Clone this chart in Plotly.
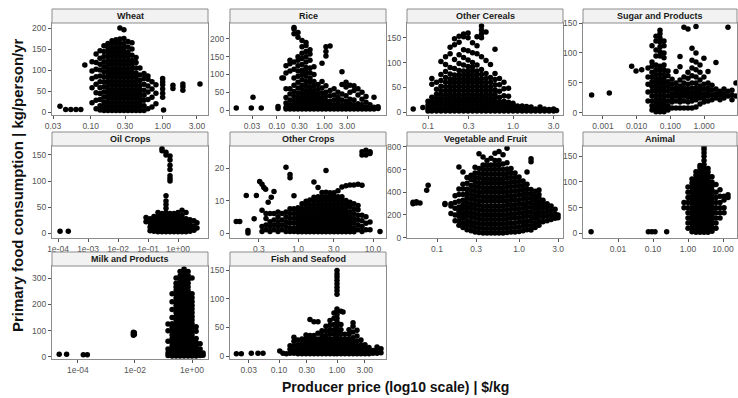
import plotly.graph_objects as go

# ---------------- data ----------------
panel_names = ["Wheat", "Rice", "Other Cereals", "Sugar and Products",
               "Oil Crops", "Other Crops", "Vegetable and Fruit", "Animal",
               "Milk and Products", "Fish and Seafood"]

# each panel: x = producer price ($/kg), y = list of consumption values observed at that price
wheat_x = [0.0375, 0.045, 0.053, 0.0625, 0.073, 0.083, 0.1045, 0.119, 0.135, 0.153, 0.174,
           0.198, 0.225, 0.255, 0.290, 0.330, 0.375, 0.427, 0.484, 0.551, 0.625, 0.711,
           0.807, 1.0, 1.03, 1.39, 1.91, 3.3]
wheat_y = [[14], [6], [6], [6], [6], [112],
           [22, 58, 80, 98, 120],
           [8, 28, 46, 66, 84, 102, 118, 138],
           [5, 15, 30, 44, 58, 72, 86, 100, 114, 128, 146],
           [4, 14, 24, 36, 48, 60, 72, 84, 96, 108, 120, 132, 144, 158],
           [4, 13, 23, 33, 43, 53, 63, 73, 83, 93, 103, 113, 123, 133, 143, 153, 163],
           [4, 13, 23, 33, 43, 53, 63, 73, 83, 93, 103, 113, 123, 133, 143, 153, 163, 170],
           [4, 13, 23, 33, 43, 53, 63, 73, 83, 93, 103, 113, 123, 133, 143, 153, 163, 172],
           [4, 13, 23, 33, 43, 53, 63, 73, 83, 93, 103, 113, 123, 133, 143, 153, 163, 174, 200],
           [4, 13, 23, 33, 43, 53, 63, 73, 83, 93, 103, 113, 123, 133, 143, 153, 163, 175, 196],
           [4, 13, 23, 33, 43, 53, 63, 73, 83, 93, 103, 113, 123, 133, 143, 155, 168],
           [4, 13, 23, 33, 43, 53, 63, 73, 83, 93, 103, 113, 123, 135, 150, 165],
           [4, 13, 23, 33, 43, 53, 63, 73, 83, 93, 105, 118, 130],
           [4, 13, 23, 33, 43, 53, 63, 75, 88, 105],
           [4, 15, 28, 40, 52, 66, 80, 92],
           [8, 30, 48, 62, 78, 86],
           [12, 35, 55, 72],
           [20, 45, 65],
           [35, 45, 55, 65, 72, 80], [5], [56, 64], [52, 60, 67], [67]]

rice_x = [0.014, 0.029, 0.0315, 0.047, 0.106, 0.128, 0.138, 0.156, 0.189, 0.230, 0.279,
          0.339, 0.411, 0.499, 0.605, 0.736, 0.893, 1.08, 1.32, 1.60, 1.94, 2.35, 2.86,
          3.47, 4.21, 5.11, 6.21, 7.54, 9.14, 11.1, 13.5]
rice_y = [[6], [6], [36], [6], [4, 10], [90], [90],
          [3, 8, 20, 35, 60, 104, 125],
          [3, 8, 15, 28, 45, 60, 110, 130, 140],
          [3, 8, 15, 25, 38, 52, 70, 90, 115, 135, 215, 228, 232],
          [3, 8, 15, 25, 35, 48, 62, 78, 95, 110, 125, 140, 150, 205, 218],
          [3, 8, 15, 25, 35, 45, 58, 70, 85, 100, 112, 128, 145, 160, 178, 196],
          [3, 8, 15, 25, 35, 45, 55, 68, 80, 95, 108, 120, 135, 150, 165, 182, 190],
          [3, 8, 15, 25, 35, 45, 55, 65, 78, 90, 105, 118, 140, 158, 170],
          [3, 8, 15, 25, 35, 45, 55, 68, 80, 100, 122],
          [3, 8, 15, 25, 35, 45, 58, 72],
          [3, 8, 15, 25, 35, 48, 62, 80, 132],
          [3, 8, 15, 25, 38, 50, 68, 152, 165, 178],
          [3, 8, 15, 25, 40, 55, 180],
          [3, 8, 15, 28, 42, 60],
          [3, 8, 15, 25, 35, 50],
          [3, 8, 15, 28, 45, 72, 108],
          [3, 8, 15, 25, 40, 65, 78],
          [3, 8, 18, 30, 50, 70],
          [3, 8, 15, 28, 55, 68],
          [3, 8, 18, 42, 60],
          [3, 8, 15, 30, 50],
          [3, 8, 22, 38],
          [3, 8, 15],
          [3, 8, 36],
          [4, 9]]

cereal_x = [0.067, 0.087, 0.100, 0.111, 0.126, 0.142, 0.161, 0.182, 0.205, 0.232, 0.262,
            0.296, 0.334, 0.377, 0.426, 0.481, 0.543, 0.614, 0.693, 0.783, 0.885, 1.0,
            1.13, 1.28, 1.44, 1.63, 1.84, 2.08, 2.35, 2.66, 3.0, 3.25]
cereal_y = [[6], [9],
            [2, 7, 14, 22],
            [2, 7, 14, 22, 30, 56, 68],
            [2, 7, 14, 21, 28, 36, 46, 60],
            [2, 7, 14, 21, 28, 35, 43, 52, 64, 76, 102],
            [2, 7, 14, 21, 28, 35, 43, 51, 60, 70, 82, 96, 112],
            [2, 7, 14, 21, 28, 35, 43, 51, 59, 67, 77, 90, 118, 131],
            [2, 7, 14, 21, 28, 35, 43, 51, 59, 67, 75, 88, 106, 136, 148],
            [2, 7, 14, 21, 28, 35, 43, 51, 59, 67, 75, 84, 98, 116, 141, 153],
            [2, 7, 14, 21, 28, 35, 43, 51, 59, 67, 75, 83, 95, 110, 126, 152, 158],
            [2, 7, 14, 21, 28, 35, 43, 51, 59, 67, 75, 83, 92, 105, 124, 150, 160],
            [2, 7, 14, 21, 28, 35, 43, 51, 59, 67, 75, 83, 91, 100, 120, 140],
            [2, 7, 14, 21, 28, 35, 43, 51, 59, 67, 75, 83, 95, 118, 134, 152],
            [2, 7, 14, 21, 28, 35, 43, 51, 59, 67, 76, 86, 112, 150, 158, 166, 174],
            [2, 7, 14, 21, 28, 35, 43, 51, 59, 68, 78, 104, 162],
            [2, 7, 14, 21, 28, 35, 43, 51, 60, 70, 96],
            [2, 7, 14, 21, 28, 36, 45, 55, 66, 78, 127],
            [2, 7, 14, 21, 30, 42, 55, 68],
            [2, 7, 14, 22, 33, 47, 60],
            [2, 7, 13, 20, 32, 48],
            [2, 6, 12, 18],
            [2, 6, 12],
            [2, 6, 12],
            [2, 6, 11],
            [2, 6, 10],
            [2, 6],
            [2, 6, 10],
            [2, 6],
            [2, 5],
            [2, 6],
            [3]]

sugar_x = [0.00046, 0.00154, 0.0071, 0.0096, 0.0141, 0.0217, 0.0285, 0.0374, 0.0492,
           0.0646, 0.0849, 0.112, 0.147, 0.193, 0.253, 0.333, 0.438, 0.575, 0.756, 0.99,
           1.31, 1.72, 2.25, 2.96, 3.89, 5.12, 6.73, 8.84]
sugar_y = [[30], [33], [78], [70], [72],
           [20, 35, 48, 60, 75],
           [5, 12, 20, 28, 36, 44, 52, 60, 68, 78, 85, 112],
           [2, 8, 15, 22, 29, 36, 43, 50, 57, 64, 72, 80, 95, 105, 120, 128],
           [2, 8, 15, 22, 29, 36, 43, 50, 57, 64, 71, 78, 95, 102, 110, 118, 125, 132, 138],
           [2, 8, 15, 22, 29, 36, 43, 50, 57, 64, 72, 80, 92, 100, 112, 120],
           [5, 12, 20, 28, 36, 44, 52, 62, 70],
           [8, 18, 25, 32, 40, 48, 56],
           [8, 20, 28, 35, 42, 50, 69],
           [8, 18, 25, 32, 38, 45, 55, 77, 94],
           [8, 20, 28, 35, 42, 50, 60, 143],
           [8, 18, 26, 33, 40, 48, 58, 68, 140],
           [8, 20, 27, 34, 41, 50, 62, 75, 88, 108],
           [10, 22, 28, 35, 42, 50, 60, 72, 85, 100, 144],
           [15, 25, 32, 38, 45, 55, 68, 80],
           [18, 25, 32, 40, 48, 60, 91],
           [20, 28, 35, 42, 50, 69],
           [22, 30, 38, 46],
           [25, 32, 40, 84],
           [22, 30, 36],
           [25, 32, 40],
           [28, 36, 143],
           [22, 30, 38],
           [28, 50]]

oil_x = [0.000117, 0.00022, 0.0858, 0.117, 0.158, 0.215, 0.293, 0.398, 0.541, 0.736, 1.0,
         1.36, 1.85, 2.51, 3.41, 4.3]
oil_y = [[4], [4],
         [22, 30],
         [5, 12, 20, 28],
         [4, 10, 16, 22, 28, 32],
         [3, 8, 14, 20, 26, 32, 40],
         [3, 8, 14, 20, 26, 32, 38, 158, 162],
         [3, 8, 14, 20, 26, 32, 40, 48, 55, 62, 72, 150, 155],
         [3, 8, 14, 20, 26, 32, 38, 100, 105, 110, 122, 130, 140, 148],
         [3, 8, 14, 20, 26, 32, 38],
         [3, 8, 14, 20, 26, 32, 40],
         [3, 8, 14, 20, 26, 34, 44],
         [3, 8, 14, 20, 28, 40],
         [4, 10, 18, 26],
         [6, 14, 24],
         [10, 20]]

othcrop_x = [0.150, 0.167, 0.204, 0.215, 0.26, 0.278, 0.308, 0.35, 0.37, 0.40, 0.44,
             0.331, 0.374, 0.423, 0.478, 0.541, 0.611, 0.691, 0.782, 0.883, 1.0, 1.13,
             1.28, 1.44, 1.63, 1.85, 2.09, 2.36, 2.67, 3.02, 3.41, 3.85, 4.36, 4.93, 5.57,
             6.31, 7.13, 8.05, 9.12, 12.4]
othcrop_y = [[3.6], [3.6], [11.6], [0.8, 0], [4.4], [11.6], [15.9], [14], [13.5], [9.5], [11],
             [0.5, 2, 7, 15],
             [1, 2.5, 4.5, 6],
             [0.5, 2, 3.5, 6],
             [1, 2.5, 4, 6, 12.8],
             [0.5, 2, 3.5, 5, 6.5],
             [1, 2.5, 4, 6],
             [0.5, 2, 3.5, 5, 6.5, 20.3],
             [0.5, 1.5, 3, 4.5, 6, 7.5, 17, 18],
             [0.5, 1.5, 3, 4.5, 6, 7.5, 11.5],
             [0.4, 1.6, 2.8, 4, 5.2, 6.4, 7.8],
             [0.4, 1.6, 2.8, 4, 5.2, 6.4, 7.6, 9],
             [0.4, 1.6, 2.8, 4, 5.2, 6.4, 7.6, 8.8, 9.8],
             [0.4, 1.6, 2.8, 4, 5.2, 6.4, 7.6, 8.8, 10.2],
             [0.4, 1.6, 2.8, 4, 5.2, 6.4, 7.6, 8.8, 10, 11, 15.7],
             [0.4, 1.6, 2.8, 4, 5.2, 6.4, 7.6, 8.8, 10, 11.2, 14],
             [0.4, 1.6, 2.8, 4, 5.2, 6.4, 7.6, 8.8, 10, 11.2, 12.5],
             [0.4, 1.6, 2.8, 4, 5.2, 6.4, 7.6, 8.8, 10, 11.2, 12.6, 19.3],
             [0.4, 1.6, 2.8, 4, 5.2, 6.4, 7.6, 8.8, 10, 11.2, 12.4],
             [0.4, 1.6, 2.8, 4, 5.2, 6.4, 7.6, 8.8, 10, 11.2, 12.4],
             [0.4, 1.6, 2.8, 4, 5.2, 6.4, 7.6, 8.8, 10, 11.2, 13],
             [0.4, 1.6, 2.8, 4, 5.2, 6.4, 7.6, 8.8, 10, 11.2, 14.2],
             [0.4, 1.6, 2.8, 4, 5.2, 6.4, 7.6, 8.8, 10, 14.6],
             [0.4, 1.6, 2.8, 4, 5.2, 6.6, 8.2, 9.5, 14.8],
             [0.4, 1.6, 3, 4.5, 6, 7.5, 9, 14.8],
             [1, 2.5, 4, 5.5, 7.2, 8.5, 15],
             [0.5, 2, 3.8, 5.5, 14.7, 24, 25],
             [1, 3, 5, 24, 25.5],
             [1, 3.4, 24.5, 25],
             [0.5]]

veg_x = [0.051, 0.056, 0.062, 0.0748, 0.078, 0.125, 0.148, 0.166, 0.185, 0.207, 0.232,
         0.260, 0.291, 0.325, 0.364, 0.407, 0.455, 0.509, 0.570, 0.638, 0.714, 0.798,
         0.893, 1.0, 1.12, 1.25, 1.40, 1.57, 1.75, 1.96, 2.20, 2.46, 2.75, 2.99]
veg_y = [[300, 312], [316, 305], [305], [418], [462], [301, 292],
         [213, 280, 300],
         [150, 200, 260, 310, 370],
         [110, 150, 190, 230, 270, 320, 380, 430, 623],
         [90, 130, 170, 210, 250, 290, 330, 380, 430, 470, 579],
         [70, 110, 150, 190, 230, 270, 310, 350, 390, 430, 480, 530],
         [60, 100, 140, 180, 220, 260, 300, 340, 380, 420, 460, 510, 550],
         [50, 90, 130, 170, 210, 250, 290, 330, 370, 410, 450, 490, 530, 570, 620],
         [45, 85, 125, 165, 205, 245, 285, 325, 365, 405, 445, 485, 525, 565, 610, 740],
         [40, 80, 120, 160, 200, 240, 280, 320, 360, 400, 440, 480, 520, 560, 600, 640, 710],
         [40, 80, 120, 160, 200, 240, 280, 320, 360, 400, 440, 480, 520, 560, 600, 640, 680],
         [40, 80, 120, 160, 200, 240, 280, 320, 360, 400, 440, 480, 520, 560, 600, 640, 700],
         [40, 80, 120, 160, 200, 240, 280, 320, 360, 400, 440, 480, 520, 560, 600, 640, 680, 745],
         [40, 80, 120, 160, 200, 240, 280, 320, 360, 400, 440, 480, 520, 560, 600, 640, 680, 760],
         [40, 80, 120, 160, 200, 240, 280, 320, 360, 400, 440, 480, 520, 560, 600, 650, 730],
         [45, 85, 125, 165, 205, 245, 285, 325, 365, 405, 445, 485, 525, 565, 605, 660, 789],
         [50, 90, 130, 170, 210, 250, 290, 330, 370, 410, 450, 490, 530, 570, 610],
         [50, 90, 130, 170, 210, 250, 290, 330, 370, 410, 450, 490, 530, 570],
         [55, 95, 135, 175, 215, 255, 295, 335, 375, 415, 455, 495, 535],
         [60, 100, 140, 180, 220, 260, 300, 340, 380, 420, 460, 500],
         [70, 110, 150, 190, 230, 270, 310, 350, 390, 430, 470, 579],
         [67, 105, 145, 185, 225, 265, 305, 345, 385, 425, 670, 696],
         [90, 130, 170, 210, 250, 290, 330, 370, 410],
         [110, 150, 190, 230, 270, 310, 350, 380, 420],
         [140, 180, 220, 260, 300, 330],
         [150, 190, 230, 270, 300],
         [160, 200, 240, 280],
         [170, 210, 250],
         [175, 200]]

animal_x = [0.0017, 0.0735, 0.092, 0.114, 0.246, 0.769, 1.0, 1.30, 1.69, 2.20, 2.87, 3.73,
            4.85, 6.31, 8.21, 10.7, 13.9]
animal_y = [[3], [3], [3], [3], [3],
            [50, 60],
            [10, 20, 30, 40, 50, 60, 70, 80, 90],
            [3, 10, 18, 26, 34, 42, 50, 58, 66, 74, 82, 90, 98, 106],
            [2, 8, 15, 22, 29, 36, 43, 50, 57, 64, 71, 78, 85, 92, 99, 106, 113, 120],
            [2, 8, 15, 22, 29, 36, 43, 50, 57, 64, 71, 78, 85, 92, 99, 106, 113, 120, 127, 132],
            [2, 8, 15, 22, 29, 36, 43, 50, 57, 64, 71, 78, 85, 92, 99, 106, 113, 120, 127, 134,
             142, 150, 157, 163, 168],
            [2, 8, 15, 22, 29, 36, 43, 50, 57, 64, 71, 78, 85, 92, 99, 106, 113, 120, 126],
            [4, 12, 20, 28, 36, 44, 52, 60, 68, 76, 84, 92, 100, 110],
            [10, 20, 30, 40, 50, 60, 70, 80, 95],
            [30, 40, 50, 60, 72, 85],
            [40, 50, 65, 72],
            [70, 75]]

milk_x = [2.2e-5, 4.0e-5, 1.54e-4, 2.13e-4, 0.0088, 0.0095, 0.144, 0.200, 0.276, 0.381,
          0.526, 0.727, 1.0, 1.39, 1.92, 2.44]
milk_y = [[10], [10], [8], [8], [82, 88, 94], [85, 92],
          [5, 15, 30, 60, 100, 125],
          [3, 14, 28, 42, 56, 70, 84, 98, 112, 126, 150, 180, 210, 240],
          [3, 14, 28, 42, 56, 70, 84, 98, 112, 126, 140, 154, 168, 182, 196, 210, 224, 238,
           252, 266, 280, 300],
          [3, 14, 28, 42, 56, 70, 84, 98, 112, 126, 140, 154, 168, 182, 196, 210, 224, 238,
           252, 266, 280, 294, 308, 325],
          [3, 14, 28, 42, 56, 70, 84, 98, 112, 126, 140, 154, 168, 182, 196, 210, 224, 238,
           252, 266, 280, 294, 308, 322, 335],
          [3, 14, 28, 42, 56, 70, 84, 98, 112, 126, 140, 154, 168, 182, 196, 210, 224, 238,
           252, 266, 280, 294, 310, 325],
          [3, 14, 28, 42, 56, 70, 84, 98, 112, 126, 140, 154, 168, 182, 196, 210, 225, 240, 300],
          [3, 12, 25, 40, 55, 70, 98, 115],
          [5, 15, 30, 50],
          [6, 15]]

fish_x = [0.0184, 0.0224, 0.0333, 0.0434, 0.053, 0.103, 0.117, 0.134, 0.155, 0.181, 0.212,
          0.249, 0.292, 0.342, 0.401, 0.470, 0.551, 0.646, 0.757, 0.887, 1.0, 1.17, 1.27,
          1.37, 1.61, 1.89, 2.21, 2.59, 3.04, 3.56, 4.18, 4.90, 5.74]
fish_y = [[4], [4], [5], [5], [5], [9], [5], [4],
          [5, 12, 18],
          [5, 10, 18, 26, 33],
          [4, 8, 14, 20, 28],
          [4, 9, 14, 22, 30],
          [4, 8, 13, 18, 24, 30, 37],
          [4, 8, 13, 18, 24, 30, 36, 64],
          [4, 8, 13, 18, 24, 30, 36, 60],
          [4, 8, 13, 18, 24, 30, 40, 60],
          [4, 8, 13, 18, 24, 30, 36, 44],
          [4, 8, 13, 18, 24, 30, 36, 44, 52],
          [4, 8, 13, 18, 24, 30, 38, 46, 54, 62],
          [4, 8, 13, 18, 24, 30, 38, 46, 55, 66, 75],
          [4, 8, 13, 18, 24, 30, 36, 42, 48, 54, 60, 66, 72, 78, 82, 108, 114, 120, 126,
           132, 138, 143, 149],
          [4, 8, 13, 18, 24, 30, 38, 46, 55, 78],
          [77],
          [4, 8, 13, 18, 24, 30, 38],
          [4, 8, 13, 18, 24, 30, 38, 46],
          [4, 8, 13, 18, 24, 32, 42, 52, 58],
          [4, 8, 13, 18, 26, 35, 45],
          [4, 8, 13, 20, 28],
          [4, 8, 14, 20],
          [4, 9, 15],
          [5, 10],
          [5, 12, 16],
          [6, 13]]

x_tick_values = [[0.03, 0.1, 0.3, 1, 3], [0.03, 0.1, 0.3, 1, 3], [0.1, 0.3, 1, 3],
                 [0.001, 0.01, 0.1, 1], [1e-4, 1e-3, 1e-2, 1e-1, 1], [0.3, 1, 3, 10],
                 [0.1, 0.3, 1, 3], [0.01, 0.1, 1, 10], [1e-4, 1e-2, 1],
                 [0.03, 0.1, 0.3, 1, 3]]
x_tick_labels = [["0.03", "0.10", "0.30", "1.00", "3.00"],
                 ["0.03", "0.10", "0.30", "1.00", "3.00"],
                 ["0.1", "0.3", "1.0", "3.0"],
                 ["0.001", "0.010", "0.100", "1.000"],
                 ["1e-04", "1e-03", "1e-02", "1e-01", "1e+00"],
                 ["0.3", "1.0", "3.0", "10.0"],
                 ["0.1", "0.3", "1.0", "3.0"],
                 ["0.01", "0.10", "1.00", "10.00"],
                 ["1e-04", "1e-02", "1e+00"],
                 ["0.03", "0.10", "0.30", "1.00", "3.00"]]
y_tick_values = [[0, 50, 100, 150, 200], [0, 50, 100, 150, 200], [0, 50, 100, 150],
                 [0, 50, 100, 150], [0, 50, 100, 150], [0, 10, 20],
                 [0, 200, 400, 600, 800], [0, 50, 100, 150], [0, 100, 200, 300],
                 [0, 50, 100, 150]]

x_title = "Producer price (log10 scale) | $/kg"
y_title = "Primary food consumption | kg/person/yr"

panel_x = [wheat_x, rice_x, cereal_x, sugar_x, oil_x, othcrop_x, veg_x, animal_x, milk_x, fish_x]
panel_y = [wheat_y, rice_y, cereal_y, sugar_y, oil_y, othcrop_y, veg_y, animal_y, milk_y, fish_y]

# ---------------- layout geometry (pixels) ----------------
W, H = 738, 398
col_px = [(52, 208), (230, 386), (407, 563), (583, 737)]
row_px = [(23, 115), (146, 238), (266, 359)]
strip_px = 14
grid_pos = [(0, 0), (0, 1), (0, 2), (0, 3), (1, 0), (1, 1), (1, 2), (1, 3), (2, 0), (2, 1)]
x_log_range = [(-1.537, 0.630), (-1.986, 1.298), (-1.247, 0.588), (-3.593, 0.977),
               (-4.2, 1.0), (-0.907, 1.173), (-1.366, 0.536), (-3.0, 1.4),
               (-4.91, 0.56), (-1.845, 0.845)]
y_lin_range = [(-7, 212), (-14, 245), (-6, 180), (-3.5, 150), (-9, 167), (-1.5, 26.8),
               (-3, 808), (-9, 170), (-8, 346), (-5, 157)]

FONT = "Liberation Sans, Arial, sans-serif"
BORDER = "#8c8c8c"
TICKCOL = "#555555"

fig = go.Figure()
axes = {}
shapes = []
annotations = []

for i, name in enumerate(panel_names):
    xs, ys = [], []
    for xv, col in zip(panel_x[i], panel_y[i]):
        xs.extend([xv] * len(col))
        ys.extend(col)
    sfx = "" if i == 0 else str(i + 1)
    fig.add_trace(go.Scatter(x=xs, y=ys, mode="markers",
                             marker=dict(color="black", size=5.5, line=dict(width=0)),
                             xaxis="x" + sfx, yaxis="y" + sfx,
                             hoverinfo="skip", showlegend=False))
    r, c = grid_pos[i]
    x0, x1 = col_px[c]
    y0, y1 = row_px[r]
    common = dict(showgrid=False, zeroline=False, showline=True, mirror=True,
                  linecolor=BORDER, linewidth=1, ticks="outside", ticklen=3,
                  tickwidth=1, tickcolor=TICKCOL, automargin=False,
                  tickfont=dict(family=FONT, size=8.5, color=TICKCOL))
    axes["xaxis" + sfx] = dict(common, type="log", domain=[x0 / W, x1 / W],
                               range=list(x_log_range[i]), anchor="y" + sfx,
                               tickmode="array", tickvals=x_tick_values[i],
                               ticktext=x_tick_labels[i])
    axes["yaxis" + sfx] = dict(common, domain=[1 - y1 / H, 1 - y0 / H],
                               range=list(y_lin_range[i]), anchor="x" + sfx,
                               tickmode="array", tickvals=y_tick_values[i],
                               ticktext=[str(v) for v in y_tick_values[i]])
    shapes.append(dict(type="rect", xref="paper", yref="paper",
                       x0=x0 / W, x1=x1 / W, y0=1 - y0 / H, y1=1 - (y0 - strip_px) / H,
                       fillcolor="#f2f2f2", line=dict(color=BORDER, width=1), layer="above"))
    annotations.append(dict(text="<b>" + name + "</b>", xref="paper", yref="paper",
                            x=(x0 + x1) / 2 / W, y=1 - (y0 - strip_px / 2) / H,
                            xanchor="center", yanchor="middle", showarrow=False,
                            font=dict(family=FONT, size=9, color="#1a1a1a")))

annotations.append(dict(text="<b>" + x_title + "</b>", xref="paper", yref="paper",
                        x=395 / W, y=1 - 387 / H, xanchor="center", yanchor="middle",
                        showarrow=False, font=dict(family=FONT, size=14, color="#111111")))
annotations.append(dict(text="<b>" + y_title + "</b>", xref="paper", yref="paper",
                        x=18 / W, y=1 - 185 / H, xanchor="center", yanchor="middle",
                        textangle=-90, showarrow=False,
                        font=dict(family=FONT, size=15, color="#111111")))

fig.update_layout(width=W, height=H, margin=dict(l=0, r=0, t=0, b=0),
                  paper_bgcolor="white", plot_bgcolor="white",
                  shapes=shapes, annotations=annotations, showlegend=False, **axes)

fig.write_html("out.html", config={"displayModeBar": False, "staticPlot": True},
               post_script="document.body.style.margin='0';document.body.style.overflow='hidden';")
